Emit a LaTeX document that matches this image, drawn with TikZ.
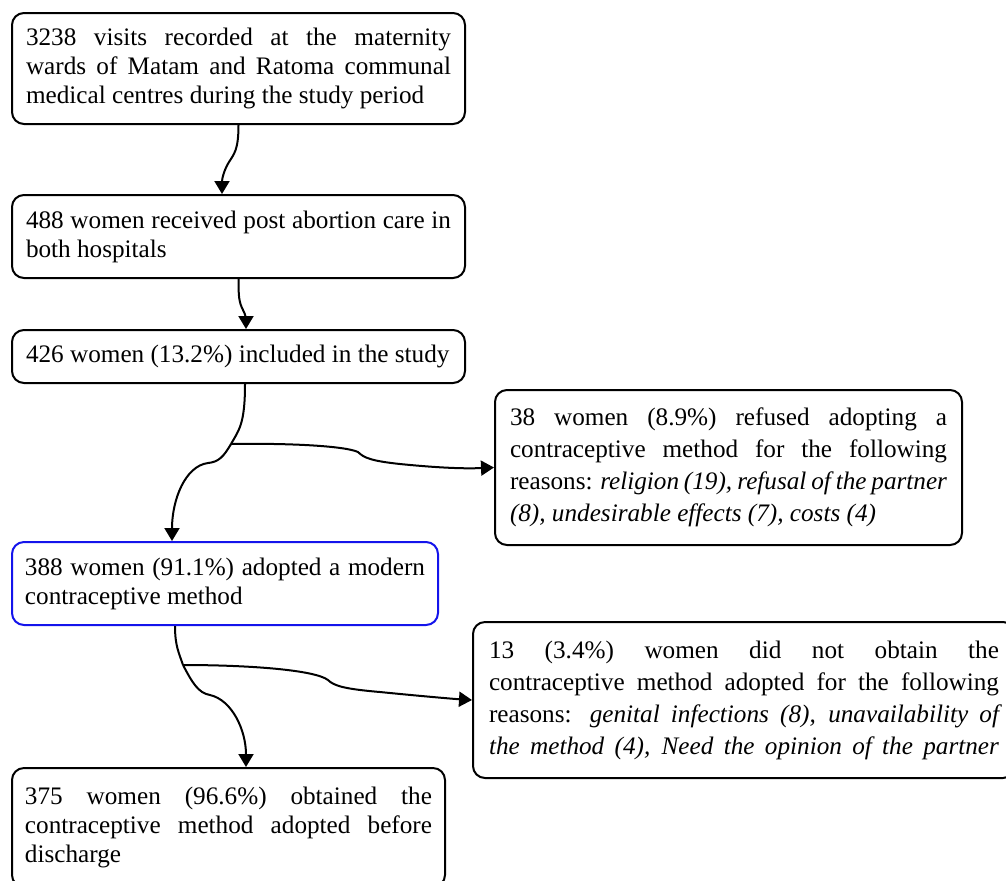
\documentclass[tikz,border=0pt]{standalone}
\usepackage{fontspec}
\setmainfont{Liberation Serif}
\usetikzlibrary{arrows.meta}
\definecolor{boxblue}{RGB}{20,20,235}

\begin{document}
\begin{tikzpicture}[x=0.5pt,y=-0.5pt]
\tikzstyle{every node}+=[inner ysep=0pt, font=\fontsize{12.6}{14.5}\selectfont]
\tikzstyle{flowbox}=[draw, line width=1pt, rounded corners=6pt, align=justify]
\tikzstyle{sidebox}=[flowbox, font=\fontsize{12.6}{16}\selectfont]
\tikzstyle{arr}=[line width=1pt, -{Triangle[length=6.5pt,width=7.5pt]}]
\useasboundingbox (0,0) rectangle (1006,880);
\node [flowbox, text width=212.5pt, inner xsep=7pt, minimum height=55.5pt] (visits) at (238.5,68.5)
  {3238 visits recorded at the maternity\linebreak wards of Matam and Ratoma communal\linebreak medical centres during the study period};
\node [flowbox, text width=212.5pt, inner xsep=7pt, minimum height=41.5pt] (received) at (238.5,236.5)
  {488 women received post abortion care in\linebreak both hospitals};
\node [flowbox, text width=212.5pt, inner xsep=7pt, minimum height=26.5pt] (included) at (238.5,356.5)
  {426 women (13.2\%) included in the study};
\node [sidebox, text width=218.5pt, inner xsep=7.5pt, minimum height=77.5pt] (refused) at (728.5,467.5)
  {38 women (8.9\%) refused adopting a\linebreak contraceptive method for the following\linebreak reasons: \textit{religion (19), refusal of the partner\linebreak (8), undesirable effects (7), costs (4)}};
\node [flowbox, draw=boxblue, text width=200pt, inner xsep=6.5pt, minimum height=41.5pt] (adopted) at (225,583.5)
  {388 women (91.1\%) adopted a modern contraceptive method};
\node [sidebox, text width=255pt, inner xsep=8pt, minimum height=78pt] (notobtained) at (744,700)
  {13 (3.4\%) women did not obtain the\linebreak contraceptive method adopted for the following\linebreak reasons: \textit{genital infections (8), unavailability of\linebreak the method (4), Need the opinion of the partner}\parfillskip=0pt\par};
\node [flowbox, text width=203.5pt, inner xsep=6.5pt, minimum height=59.5pt] (obtained) at (228.5,827.5)
  {375 women (96.6\%) obtained the\linebreak contraceptive method adopted before\linebreak discharge};
\coordinate (split1) at (231,444);
\coordinate (split2) at (183,665);
\draw [arr] (visits.south) .. controls +(0,25) and +(5,-8) .. (229,162) .. controls +(-5,8) and +(0,-15) .. ([xshift=-8.25pt]received.north);
\draw [arr] (received.south) .. controls +(0,18) and +(-4,-8) .. (243,310) .. controls +(3,5) and +(0,-8) .. ([xshift=3.75pt]included.north);
\draw [line width=1pt] ([xshift=3.25pt]included.south) .. controls +(0,40) and +(8,-14) .. (split1);
\draw [arr] (split1) .. controls (290,443) and (345,446) .. (358,452) .. controls (364,458) and (372,461) .. (400,464) .. controls (430,467) and (460,469) .. (refused.west);
\draw [arr] (split1) .. controls (224,456) and (219,462) .. (208,463) .. controls (185,466) and (172,500) .. ([xshift=-26.5pt]adopted.north);
\draw [line width=1pt] ([xshift=-25pt]adopted.south) .. controls +(0,20) and +(-4,-12) .. (split2);
\draw [arr] (split2) .. controls (250,665) and (315,670) .. (328,680) .. controls (334,686) and (345,689) .. (380,692) .. controls (420,696) and (455,699) .. (notobtained.west);
\draw [arr] (split2) .. controls (192,682) and (198,693) .. (210,695) .. controls (232,700) and (246,730) .. ([xshift=8.75pt]obtained.north);
\end{tikzpicture}
\end{document}
